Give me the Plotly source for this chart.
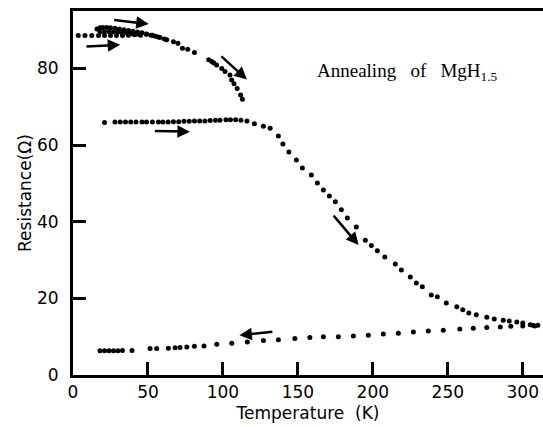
import plotly.graph_objects as go

# ---- data (Temperature in K, Resistance in Ohm) ----
first_low_T = [3.5, 8, 12.5, 17, 21, 25, 29, 33, 37, 41, 45, 49, 53, 57, 62.5, 67, 70, 73, 76.5, 81,
               90.5, 92.5, 94, 95.8, 99.2, 101.4, 104.7, 105.8, 107.4, 109.5, 111.8, 113]
first_low_R = [88.6, 88.6, 88.6, 88.6, 88.6, 88.6, 88.6, 88.6, 88.7, 88.8, 88.9, 88.9, 88.7, 88.2, 87.5, 87.0, 86.6, 85.3, 85.0, 84.2,
               82.3, 81.8, 81.4, 80.9, 80.0, 79.2, 78.3, 77.0, 76.0, 74.8, 73.1, 72.0]

first_up_T = [16, 18, 20, 22.5, 25, 28, 31, 34, 37, 40, 43, 46, 49, 52, 55, 58, 61]
first_up_R = [90.3, 90.6, 90.7, 90.7, 90.6, 90.5, 90.3, 90.1, 89.9, 89.7, 89.5, 89.3, 89.0, 88.7, 88.4, 88.1, 87.7]

first_mid_T = [18, 21, 24, 27, 30, 33, 36, 39, 42, 45]
first_mid_R = [89.5, 89.6, 89.6, 89.6, 89.5, 89.4, 89.3, 89.1, 88.9, 88.7]

second_T = [21, 28, 31.5, 35, 38.5, 42, 46, 49, 53, 57, 60, 63.5, 67, 70.5, 74, 77.5, 81, 84.5, 88, 91.5,
            95, 98, 102, 105, 108.5, 112, 116, 121, 127, 131.5, 137, 140, 144, 149, 153, 159, 163, 167, 171,
            175, 179, 183, 189, 195, 199, 203, 208, 215, 219, 225, 229, 233, 239, 243, 249, 256, 260, 264,
            269, 276, 281, 287, 291, 296, 300, 305, 308]
second_R = [65.9, 66.0, 66.0, 66.0, 66.0, 66.0, 66.0, 66.0, 66.0, 66.0, 66.0, 66.0, 66.1, 66.1, 66.2, 66.2, 66.3, 66.3, 66.3, 66.4,
            66.5, 66.5, 66.6, 66.6, 66.6, 66.5, 66.3, 65.6, 64.9, 64.4, 62.4, 60.3, 58.2, 56.1, 54.0, 52.2, 50.1, 48.3, 46.7,
            45.2, 43.1, 41.0, 38.6, 35.2, 33.8, 32.4, 30.8, 29.0, 27.4, 25.6, 24.0, 23.0, 20.9, 20.4, 18.8, 17.8, 17.0, 16.2,
            15.7, 15.1, 14.6, 14.3, 14.1, 13.8, 13.6, 13.1, 12.8]

cool_T = [18, 21, 24, 27, 30, 33, 39.4, 51.4, 55.8, 63.6, 68.1, 71.4, 75.9, 81, 87.4, 95.9, 105.9, 116.3, 127,
          137, 148, 158, 167, 177, 187, 197, 207, 217, 227, 237, 247, 258, 267, 276, 285, 292, 300, 307, 310]
cool_R = [6.3, 6.3, 6.3, 6.3, 6.3, 6.4, 6.4, 6.9, 6.9, 7.0, 7.1, 7.2, 7.3, 7.5, 7.6, 8.0, 8.3, 8.6, 9.0,
          9.2, 9.5, 9.8, 10.0, 10.0, 10.2, 10.4, 10.7, 10.9, 11.2, 11.5, 11.7, 12.0, 12.2, 12.4, 12.5, 12.7, 12.8, 12.9, 13.0]

# arrows: (tail T, tail R, head T, head R)
arrows = [
    (26.5, 92.7, 50.5, 91.6),
    (8, 85.7, 31.5, 86.2),
    (98, 83.5, 116, 77.1),
    (53.6, 63.7, 78, 63.5),
    (173, 42.0, 190.5, 33.9),
    (134, 11.3, 111, 10.4),
]

x_ticks = [0, 50, 100, 150, 200, 250, 300]
y_ticks = [0, 20, 40, 60, 80]

fig = go.Figure()
for T, R in [(first_low_T, first_low_R), (first_up_T, first_up_R), (first_mid_T, first_mid_R),
             (second_T, second_R), (cool_T, cool_R)]:
    fig.add_trace(go.Scatter(x=T, y=R, mode="markers",
                             marker=dict(color="black", size=5, line=dict(width=0)),
                             showlegend=False, hoverinfo="skip"))

for (ax, ay, x, y) in arrows:
    fig.add_annotation(x=x, y=y, ax=ax, ay=ay, xref="x", yref="y", axref="x", ayref="y",
                       showarrow=True, arrowhead=2, arrowsize=1, arrowwidth=2.5,
                       arrowcolor="black", standoff=0, startstandoff=0, text="")

fig.add_annotation(x=223, y=79, xref="x", yref="y", showarrow=False,
                   text="Annealing\u00a0\u00a0 of\u00a0\u00a0 MgH<sub>1.5</sub>",
                   font=dict(family="Liberation Serif", size=19, color="black"))

font_sans = dict(family="DejaVu Sans", size=17, color="black")
fig.update_layout(
    width=543, height=427,
    margin=dict(l=73, r=0, t=11, b=52),
    paper_bgcolor="white", plot_bgcolor="white",
    font=font_sans,
    xaxis=dict(range=[0, 313.5], tickvals=x_ticks, ticktext=[str(v) for v in x_ticks],
               ticks="inside", ticklen=13, tickwidth=2.5, tickcolor="black",
               showline=True, linewidth=3, linecolor="black", mirror=True,
               showgrid=False, zeroline=False, tickfont=font_sans,
               title=dict(text="Temperature\u00a0 (K)", font=font_sans, standoff=6)),
    yaxis=dict(range=[0, 95], tickvals=y_ticks, ticktext=[str(v) for v in y_ticks],
               ticks="inside", ticklen=13, tickwidth=2.5, tickcolor="black",
               showline=True, linewidth=3, linecolor="black", mirror=False,
               showgrid=False, zeroline=False, tickfont=font_sans, ticklabelstandoff=8,
               title=dict(text="Resistance(\u03a9)", font=font_sans, standoff=2)),
)

fig.write_html("out.html")
